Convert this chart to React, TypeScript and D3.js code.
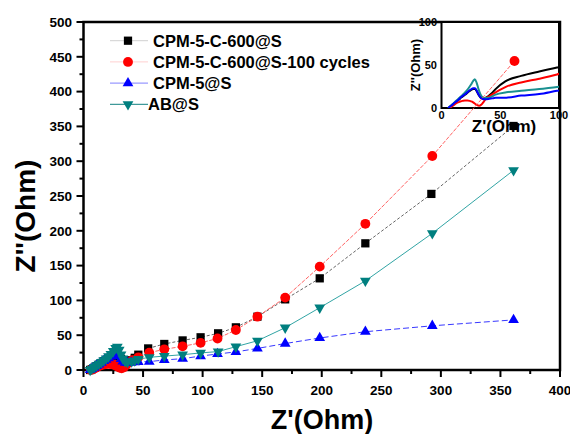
import * as d3 from "d3";

// CPM-5-C-600@S
const blackX = [5.6, 7, 9, 11, 13, 15, 17, 19, 21, 23, 25, 27, 28.5, 30, 31.5, 33, 35, 37, 40, 43, 46, 54.3, 67.8, 83.2, 98.3, 113, 127.9, 146, 169.3, 198.3, 236.6, 292, 361];
const blackY = [0, 1.2, 3.2, 5.6, 7.6, 10, 12.4, 14.4, 16.4, 18.8, 20.8, 22.2, 22.2, 19.4, 15.5, 12.4, 11, 11.6, 14, 17.5, 22, 31, 37.4, 42.5, 47, 52.7, 61.3, 76.6, 101.5, 131.7, 182, 253, 350.6];
// CPM-5-C-600@S-100 cycles
const redX = [6, 8, 10, 12, 14, 16, 18, 20, 22, 24, 26, 28, 30, 32, 34, 36, 38, 41, 46, 55.2, 67.8, 83.2, 98.3, 112.5, 127.9, 146, 169.3, 198.3, 236.6, 292.8, 361.8];
const redY = [0, 1, 3, 5, 6.5, 7.5, 8.3, 8.8, 8.8, 8.3, 7.3, 5.5, 3.5, 2.5, 4, 7.5, 11, 14, 18.2, 24.9, 29.7, 34, 39, 45.3, 57.5, 76.6, 104, 148.5, 210, 307.5, 444];
// CPM-5@S
const blueX = [5.6, 7, 9, 11, 13, 15, 17, 19, 21, 23, 25, 27, 28.5, 30, 31.5, 33, 35, 37, 40, 43, 46, 55.2, 67.8, 83.2, 98.3, 112.5, 127.9, 146, 169.3, 198.3, 236.6, 292.8, 361];
const blueY = [0, 1.5, 3.5, 6, 8, 10.5, 13, 15, 17, 19.5, 21.5, 23, 23, 20, 16, 12.5, 10.5, 10.3, 10.6, 11.2, 11.8, 12, 14.4, 16.3, 20, 23, 26, 31, 38, 46, 55, 63.5, 72];
// AB@S
const tealX = [5.6, 7, 9, 11, 13, 15, 17, 19, 21, 23, 25, 27, 28.4, 30, 31.5, 33, 35, 37, 40.4, 43, 46, 55.2, 67.8, 83.2, 98.3, 113, 127.9, 146, 169.3, 198.3, 236.6, 292.8, 361];
const tealY = [0, 1.8, 4, 6.5, 9, 11.5, 14, 16.5, 19.5, 23, 27, 31.5, 33.4, 29, 22, 16.5, 12.5, 11.5, 12, 13.5, 15.5, 18.2, 20, 22, 24.5, 26.5, 33.5, 42, 60.8, 89.5, 128, 196.4, 287];

const seriesNames = ["CPM-5-C-600@S", "CPM-5-C-600@S-100 cycles", "CPM-5@S", "AB@S"];
const xTicks = [0, 50, 100, 150, 200, 250, 300, 350, 400];
const yTicks = [0, 50, 100, 150, 200, 250, 300, 350, 400, 450, 500];
const insetTicks = [0, 50, 100];

const W = 570;
const H = 434;
const font = "'Liberation Sans', Arial, sans-serif";

const x = d3.scaleLinear().domain([0, 400]).range([83.5, 560]);
const y = d3.scaleLinear().domain([0, 500]).range([370, 22]);
const ix = d3.scaleLinear().domain([0, 100]).range([441.5, 559]);
const iy = d3.scaleLinear().domain([0, 100]).range([108, 22]);

const series = [
  { name: seriesNames[0], xs: blackX, ys: blackY, color: "#000000", line: "#555555", dash: "3,2", inset: "#000000", sym: d3.symbolSquare, size: 68, rot: 0 },
  { name: seriesNames[1], xs: redX, ys: redY, color: "#ff0000", line: "#ff5050", dash: "4,1.5", inset: "#ff0000", sym: d3.symbolCircle, size: 76, rot: 0 },
  { name: seriesNames[2], xs: blueX, ys: blueY, color: "#0000ff", line: "#2020ff", dash: "6,3", inset: "#0000ff", sym: d3.symbolTriangle, size: 50, rot: 0 },
  { name: seriesNames[3], xs: tealX, ys: tealY, color: "#007f7f", line: "#1a9a9a", dash: "", inset: "#1a9090", sym: d3.symbolTriangle, size: 50, rot: 180 },
];

// inset draw order: black, red, teal, blue
const insetOrder = [0, 1, 3, 2];
const legendLines = ["#d0d0d0", "#ffd0d0", "#8080ff", "#108080"];

export default function App() {
  const minorX = d3.range(25, 400, 50);
  const minorY = d3.range(25, 500, 50);
  const mainLine = (xs: number[], ys: number[]) =>
    d3.line<number>().x((_, i) => x(xs[i])).y((_, i) => y(ys[i]))(xs) || "";
  const insetLine = (xs: number[], ys: number[]) =>
    d3.line<number>().x((_, i) => ix(xs[i])).y((_, i) => iy(ys[i])).curve(d3.curveMonotoneX)(xs) || "";

  return (
    <svg width={W} height={H} style={{ position: "absolute", left: 0, top: 0, background: "#fff" }} fontFamily={font}>
      <defs>
        <clipPath id="insetClip">
          <rect x={ix(0)} y={iy(100)} width={ix(100) - ix(0)} height={iy(0) - iy(100)} />
        </clipPath>
      </defs>
      <rect width={W} height={H} fill="#fff" />

      {/* main axes */}
      <g stroke="#000" strokeWidth={2}>
        {xTicks.map((t) => <line key={"xt" + t} x1={x(t)} x2={x(t)} y1={370} y2={377} />)}
        {minorX.map((t) => <line key={"xm" + t} x1={x(t)} x2={x(t)} y1={370} y2={374} />)}
        {yTicks.map((t) => <line key={"yt" + t} x1={76.5} x2={83.5} y1={y(t)} y2={y(t)} />)}
        {minorY.map((t) => <line key={"ym" + t} x1={79.5} x2={83.5} y1={y(t)} y2={y(t)} />)}
      </g>
      <rect x={83.5} y={22} width={560 - 83.5} height={348} fill="none" stroke="#000" strokeWidth={2.5} />

      <g fontWeight="bold" fontSize={13.5} fill="#000">
        {xTicks.map((t) => (
          <text key={"xl" + t} x={x(t)} y={395} textAnchor="middle">{t}</text>
        ))}
        {yTicks.map((t) => (
          <text key={"yl" + t} x={72} y={y(t)} dy="0.36em" textAnchor="end">{t}</text>
        ))}
      </g>
      <text x={322} y={429} textAnchor="middle" fontWeight="bold" fontSize={27}>Z'(Ohm)</text>
      <text transform="translate(35,216) rotate(-90)" textAnchor="middle" fontWeight="bold" fontSize={28}>Z''(Ohm)</text>

      {/* inset */}
      <rect x={ix(0)} y={iy(100)} width={ix(100) - ix(0)} height={iy(0) - iy(100)} fill="#fff" stroke="#000" strokeWidth={2} />
      <g clipPath="url(#insetClip)">
        {insetOrder.map((k) => {
          const s = series[k];
          return <path key={"il" + s.name} d={insetLine(s.xs, s.ys)} fill="none" stroke={s.inset} strokeWidth={2} />;
        })}
      </g>
      <g fontWeight="bold" fontSize={11} fill="#000">
        {insetTicks.map((t) => (
          <text key={"ixl" + t} x={ix(t)} y={119} textAnchor="middle">{t}</text>
        ))}
        {insetTicks.map((t) => (
          <text key={"iyl" + t} x={437} y={iy(t)} dy="0.36em" textAnchor="end">{t}</text>
        ))}
      </g>
      <text x={504} y={132} textAnchor="middle" fontWeight="bold" fontSize={17}>Z'(Ohm)</text>
      <text transform="translate(420,65) rotate(-90)" textAnchor="middle" fontWeight="bold" fontSize={13}>Z''(Ohm)</text>

      {/* main series */}
      {series.map((s) => (
        <g key={"s" + s.name}>
          <path d={mainLine(s.xs, s.ys)} fill="none" stroke={s.line} strokeWidth={0.9} strokeDasharray={s.dash || undefined} />
          {s.xs.map((v, i) => (
            <path
              key={i}
              d={d3.symbol().type(s.sym).size(s.size)() || ""}
              transform={`translate(${x(v)},${y(s.ys[i])}) rotate(${s.rot})`}
              fill={s.color}
            />
          ))}
        </g>
      ))}

      {/* legend */}
      {series.map((s, i) => {
        const ly = 40.7 + i * 21.2;
        return (
          <g key={"lg" + s.name}>
            <line x1={110} x2={148} y1={ly} y2={ly} stroke={legendLines[i]} strokeWidth={1} />
            <path d={d3.symbol().type(s.sym).size(s.size)() || ""} transform={`translate(128,${ly}) rotate(${s.rot})`} fill={s.color} />
            <text x={i === 3 ? 148 : 153} y={ly} dy="0.36em" fontWeight="bold" fontSize={16.5}>{s.name}</text>
          </g>
        );
      })}
    </svg>
  );
}
